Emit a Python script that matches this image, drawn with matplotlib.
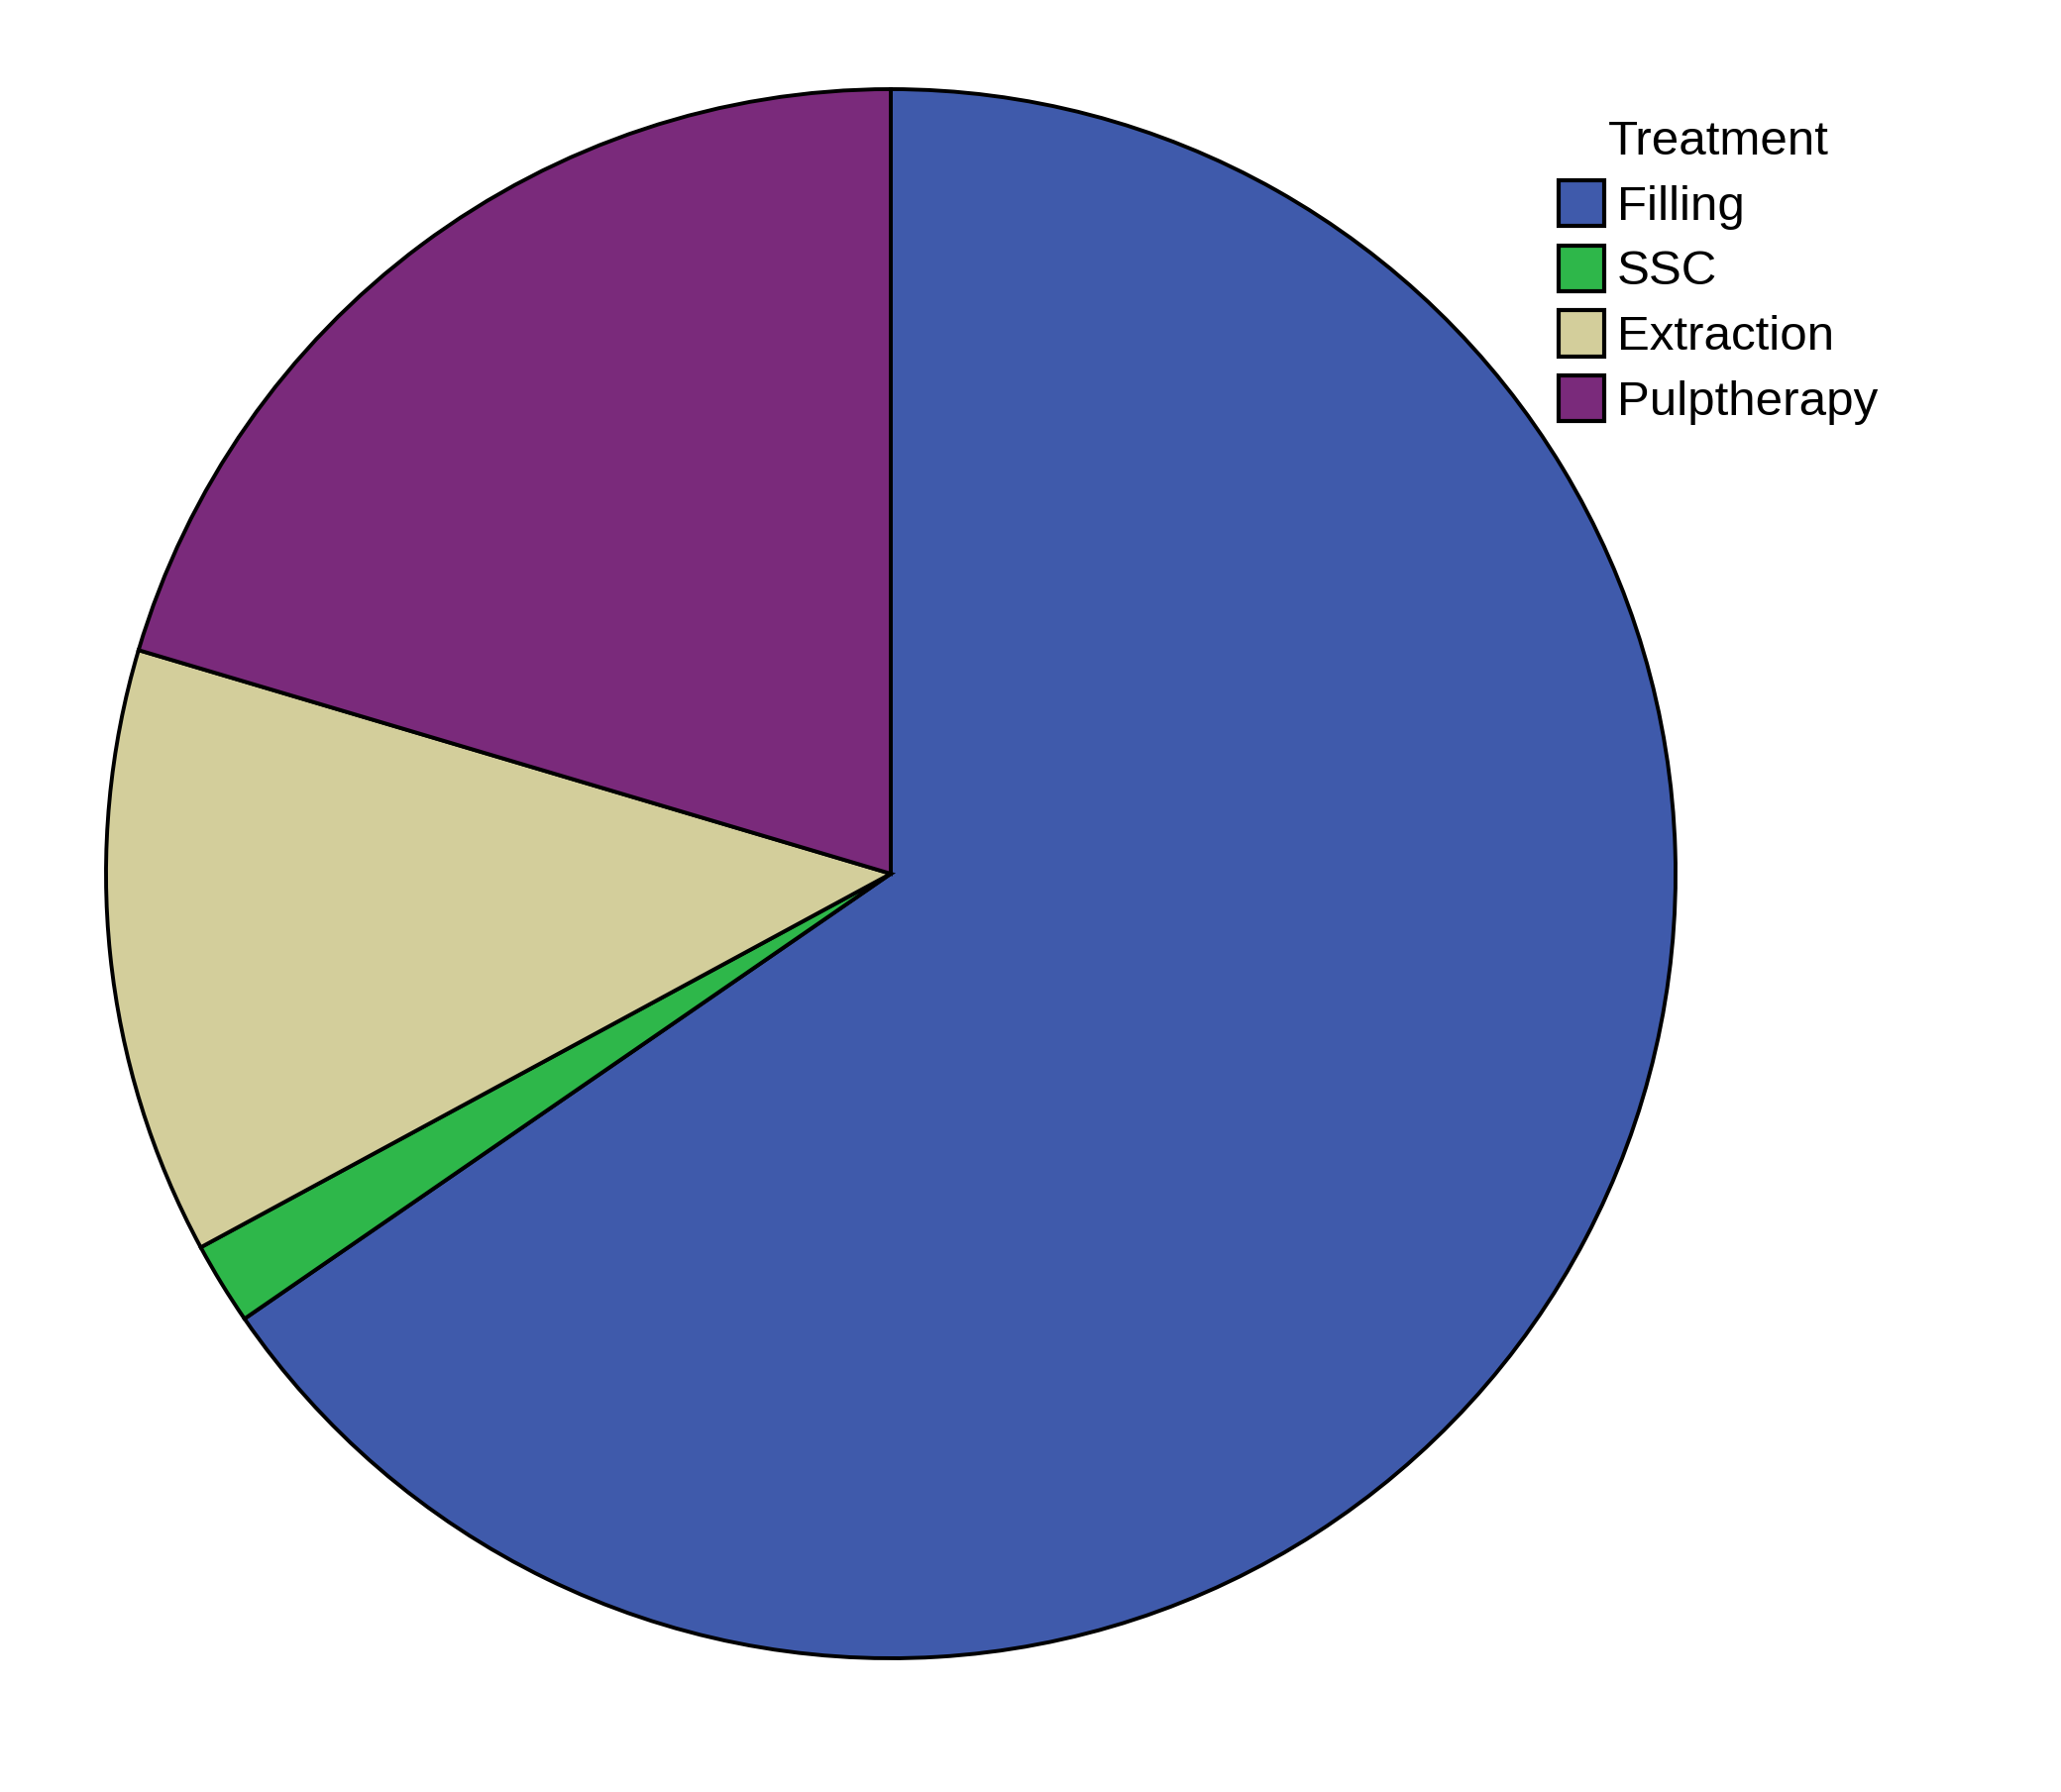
import matplotlib.pyplot as plt

plt.rcParams['font.family'] = ['Liberation Sans', 'DejaVu Sans']

treatments = ["Filling", "SSC", "Extraction", "Pulptherapy"]
shares = [65.4, 1.7, 12.5, 20.4]
colors = ["#3F5AAB", "#2EB74A", "#D3CE9B", "#7A2A7B"]

W, H, DPI = 2080, 1809, 100
fig = plt.figure(figsize=(W / DPI, H / DPI), dpi=DPI)

# pie centre (899, 882) px from top-left, radius 792 px
cx, cy, r = 899, H - 882, 792
ax = fig.add_axes([(cx - r) / W, (cy - r) / H, 2 * r / W, 2 * r / H])
wedges, _ = ax.pie(shares, colors=colors, startangle=90, counterclock=False,
                   radius=1.0,
                   wedgeprops=dict(edgecolor="black", linewidth=2.8))
for w in wedges:
    w.set_clip_on(False)
ax.set_xlim(-1, 1)
ax.set_ylim(-1, 1)
ax.set_aspect("equal")
ax.axis("off")

leg = fig.legend(wedges, treatments, title="Treatment",
                 loc="upper left", bbox_to_anchor=(1570 / W, 1 - 118 / H),
                 frameon=False, fontsize=35.5, title_fontsize=35.5,
                 handlelength=0.94, handleheight=1.07, handletextpad=0.25,
                 labelspacing=0.32, borderpad=0.06, borderaxespad=0)
for h in leg.legend_handles:
    h.set_linewidth(3.0)

fig.savefig("out.png", dpi=DPI)
